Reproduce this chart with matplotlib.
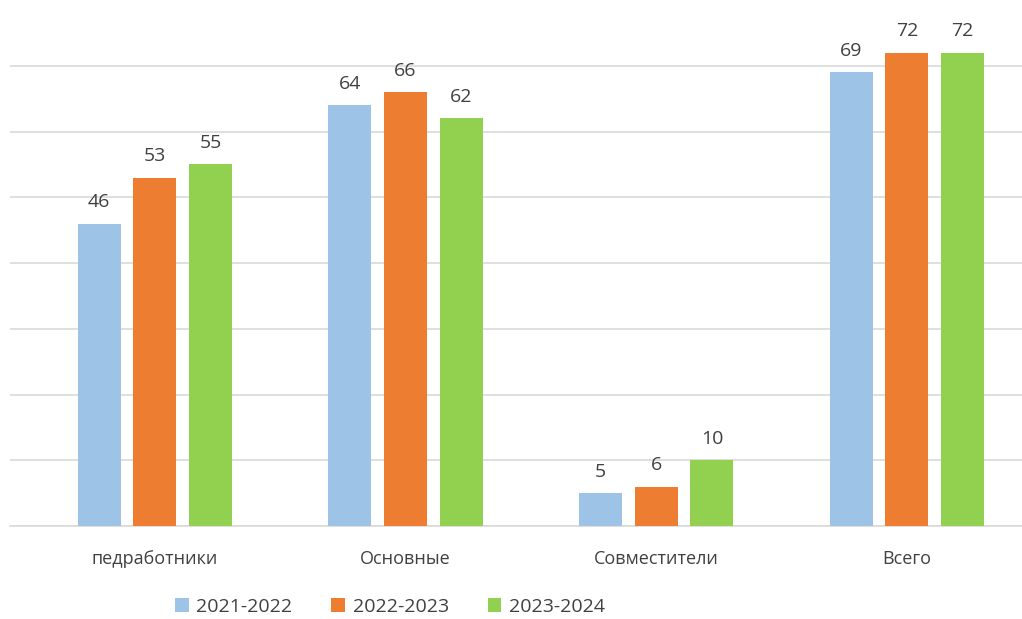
import numpy as np
import matplotlib.pyplot as plt

categories = ['педработники', 'Основные', 'Совместители', 'Всего']
series_names = ['2021-2022', '2022-2023', '2023-2024']
values_2021 = [46, 64, 5, 69]
values_2022 = [53, 66, 6, 72]
values_2023 = [55, 62, 10, 72]
colors = ['#9DC3E6', '#ED7D31', '#92D050']

plt.rcParams['font.family'] = ['Open Sans', 'DejaVu Sans']

fig = plt.figure(figsize=(10.22, 6.19), dpi=100)
ax = fig.add_axes([10 / 1022, 93 / 619, 1012 / 1022, 526 / 619])

x = np.arange(len(categories))
width = 0.172
step = 0.222
all_values = [values_2021, values_2022, values_2023]

for i, (vals, name, col) in enumerate(zip(all_values, series_names, colors)):
    pos = x + (i - 1) * step
    bars = ax.bar(pos, vals, width, color=col, label=name, zorder=3)
    for b, v in zip(bars, vals):
        ax.annotate(str(v), (b.get_x() + b.get_width() / 2, v),
                    xytext=(0, 9), textcoords='offset points',
                    ha='center', va='bottom', fontsize=14, color='#404040')

ax.set_xlim(-0.578, 3.459)
ax.set_ylim(0, 80)
ax.set_yticks(np.arange(0, 71, 10))
ax.yaxis.grid(True, color='#D9D9D9', linewidth=1.2, zorder=0)
ax.tick_params(axis='y', left=False, labelleft=False)
ax.tick_params(axis='x', bottom=False, pad=14, labelsize=13, labelcolor='#404040')
ax.set_xticks(x)
ax.set_xticklabels(categories)
for s in ['top', 'right', 'left']:
    ax.spines[s].set_visible(False)
ax.spines['bottom'].set_color('#D9D9D9')
ax.spines['bottom'].set_linewidth(1.2)

fig.legend(loc='center', bbox_to_anchor=(390 / 1022, 1 - 607 / 619), ncol=3,
           frameon=False, fontsize=14, handlelength=0.7, handleheight=0.7,
           handletextpad=0.4, columnspacing=2.0, labelcolor='#404040')

fig.savefig('out.png', dpi=100)
